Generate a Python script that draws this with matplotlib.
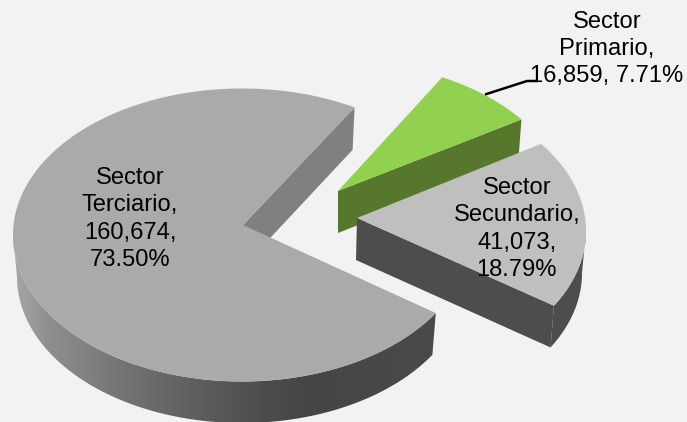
import numpy as np
import matplotlib
matplotlib.use("Agg")
import matplotlib.pyplot as plt
from matplotlib.colors import LinearSegmentedColormap
from matplotlib.patches import Polygon

# --- data ---
categories = ["Sector Primario", "Sector Secundario", "Sector Terciario"]
values = [16859, 41073, 160674]

# --- layout (pixel-like axes units) ---
W, H = 687, 422
A, B = 229, 146.5          # top ellipse radii
A2, B2 = 225, 146          # bottom ellipse radii
DEPTH = 42
centers = [(339, 208), (357, 231), (242, 235)]
apexes = [(338, 191), (357, 218), (243, 225)]
apexes_low = [(338, 233), (356, 260), (243, 267)]
t_start = [63.2, 36.5, -32.2]
stretch = [0.937, 0.993, 1.01]
top_colors = ["#92d050", "#bfbfbf", "#aaaaaa"]
inner_colors = ["#57772d", "#4d4d4d", "#808080"]

plt.rcParams["font.family"] = ["Liberation Sans", "DejaVu Sans"]
BG = "#f2f2f2"
fig = plt.figure(figsize=(W / 100, H / 100), dpi=100, facecolor=BG)
ax = fig.add_axes([0, 0, 1, 1])
ax.set_facecolor(BG)
ax.axis("off")

total = sum(values)
frac = [v / total for v in values]


def top_pt(c, t):
    t = np.radians(t)
    return np.c_[c[0] + A * np.cos(t), c[1] - B * np.sin(t)]


def low_pt(c, t):
    t = np.radians(t)
    return np.c_[c[0] + A2 * np.cos(t), c[1] + DEPTH - B2 * np.sin(t)]


def wedge_angles(i):
    t1 = t_start[i]
    t2 = t1 - 360 * frac[i] * stretch[i]
    return t1, t2


def draw_piece(i, z):
    c = centers[i]
    t1, t2 = wedge_angles(i)
    ts = np.linspace(t1, t2, 400)
    arc = top_pt(c, ts)
    low = low_pt(c, np.array([t2]))
    # flat inner face at the clockwise end of the arc
    ax.add_patch(Polygon(np.vstack([[apexes[i]], [arc[-1]], low, [apexes_low[i]]]),
                         fc=inner_colors[i], ec="none", zorder=z))
    if i == 1:
        rim_t = np.linspace(t2, 0, 120)
        ax.add_patch(Polygon(np.vstack([top_pt(c, rim_t), low_pt(c, rim_t[::-1])]),
                             fc=inner_colors[i], ec="none", zorder=z))
    if i == 2:
        rim_t = np.linspace(t1, -180, 300)
        rim = Polygon(np.vstack([top_pt(c, rim_t), low_pt(c, rim_t[::-1])]),
                      fc="none", ec="none", zorder=z)
        ax.add_patch(rim)
        cmap = LinearSegmentedColormap.from_list(
            "rim",
            [(0.0, "#a8a8a8"), (0.08, "#8f8f8f"), (0.25, "#757575"), (0.42, "#606060"),
             (0.60, "#4c4c4c"), (0.70, "#454545"), (1.0, "#4a4a4a")])
        im = ax.imshow(np.linspace(0, 1, 256)[None, :], cmap=cmap, aspect="auto",
                       extent=(13, 437, 423, 230), zorder=z, interpolation="bilinear")
        im.set_clip_path(rim)
    ax.add_patch(Polygon(np.vstack([[apexes[i]], arc]), fc=top_colors[i], ec="none", zorder=z + 0.5))


draw_piece(2, 1)
draw_piece(0, 2)
draw_piece(1, 3)

# leader line of the first label
ax.plot([485, 527, 538], [94.5, 81, 81], color="black", lw=1.8, zorder=5,
        solid_capstyle="butt", solid_joinstyle="miter")


def label(i):
    name = categories[i].split()
    return name, f"{values[i]:,}", f"{frac[i] * 100:.2f}%"


FS = 17.1
LS = 1.32
n, v, p = label(0)
ax.text(607, 49, f"{n[0]}\n{n[1]},\n{v}, {p}", ha="center", va="center", fontsize=FS,
        linespacing=LS, color="black", zorder=6)
n, v, p = label(1)
ax.text(517, 229, f"{n[0]}\n{n[1]},\n{v},\n{p}", ha="center", va="center", fontsize=FS,
        linespacing=LS, color="black", zorder=6)
n, v, p = label(2)
ax.text(130, 219, f"{n[0]}\n{n[1]},\n{v},\n{p}", ha="center", va="center", fontsize=FS,
        linespacing=LS, color="black", zorder=6)

ax.set_xlim(0, W)
ax.set_ylim(H, 0)
fig.savefig("out.png", dpi=100, facecolor=BG)
